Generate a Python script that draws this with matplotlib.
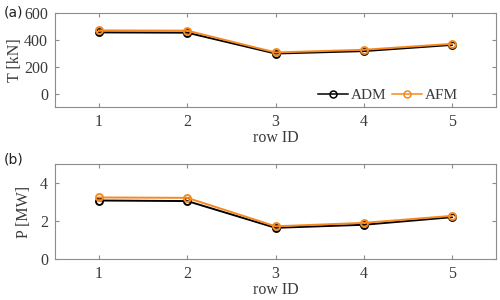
import matplotlib
matplotlib.use("Agg")
import matplotlib.pyplot as plt

row_id = [1, 2, 3, 4, 5]
T_ADM = [455, 453, 298, 316, 362]
T_AFM = [470, 468, 306, 326, 370]
P_ADM = [3.08, 3.05, 1.64, 1.80, 2.20]
P_AFM = [3.24, 3.22, 1.72, 1.90, 2.27]

plt.rcParams['font.family'] = ['Liberation Serif', 'DejaVu Serif']

black = '#000000'
orange = '#F5891F'
spine_c = '#8c8c8c'
text_c = '#3a3a3a'
fs = 11.5

fig = plt.figure(figsize=(5, 3), dpi=100)
ax1 = fig.add_axes([0.11, 0.643, 0.882, 0.314])
ax2 = fig.add_axes([0.11, 0.137, 0.882, 0.316])

def style(ax):
    for s in ax.spines.values():
        s.set_color(spine_c)
        s.set_linewidth(0.8)
    ax.tick_params(direction='in', length=3, width=0.8, color=spine_c,
                   labelcolor=text_c, labelsize=fs, top=True, right=True, pad=5)
    ax.set_xlim(0.5, 5.5)
    ax.set_xticks(row_id)
    ax.set_xlabel('row ID', fontsize=fs, color=text_c, labelpad=0)

mk = dict(marker='o', markersize=5, markerfacecolor='none', markeredgewidth=1.4, linewidth=1.4)

ax1.plot(row_id, T_ADM, color=black, label='ADM', **mk)
ax1.plot(row_id, T_AFM, color=orange, label='AFM', **mk)
ax1.set_ylim(-100, 600)
ax1.set_yticks([0, 200, 400, 600])
ax1.set_ylabel('T [kN]', fontsize=fs, color=text_c, labelpad=1)
style(ax1)
leg = ax1.legend(loc='center left', frameon=False, fontsize=11, handlelength=2.0,
                 handletextpad=0.15, ncol=2, columnspacing=0.35,
                 borderpad=0, borderaxespad=0, bbox_to_anchor=(0.596, 0.128))
for t in leg.get_texts():
    t.set_color(text_c)
for h in leg.get_lines():
    h.set_linewidth(1.1)
    h.set_markeredgewidth(1.1)

ax2.plot(row_id, P_ADM, color=black, **mk)
ax2.plot(row_id, P_AFM, color=orange, **mk)
ax2.set_ylim(0, 5)
ax2.set_yticks([0, 2, 4])
ax2.set_ylabel('P [MW]', fontsize=fs, color=text_c, labelpad=6)
style(ax2)

fig.text(0.008, 0.957, '(a)', fontsize=10, family='DejaVu Sans', color='#222222', va='center')
fig.text(0.008, 0.468, '(b)', fontsize=10, family='DejaVu Sans', color='#222222', va='center')

fig.savefig('out.png', dpi=100)
